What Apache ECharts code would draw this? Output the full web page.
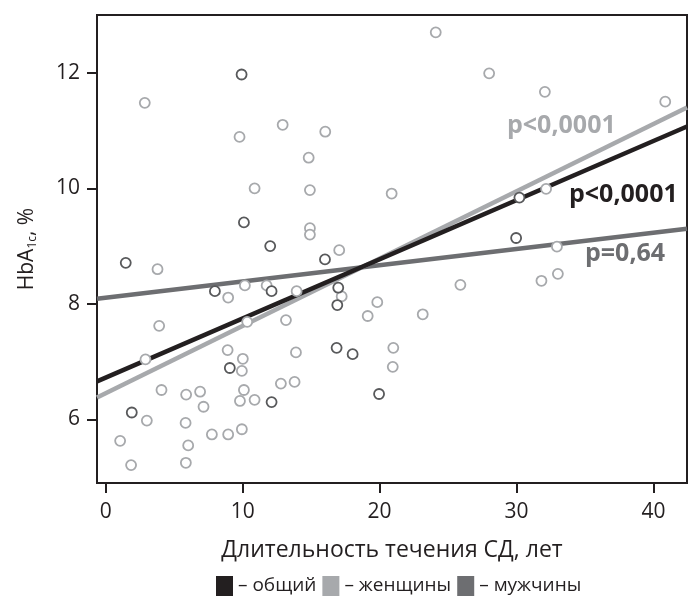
<!DOCTYPE html>
<html>
<head>
<meta charset="utf-8">
<script src="https://cdn.jsdelivr.net/npm/echarts@6/dist/echarts.min.js"></script>
<style>
  html, body { margin: 0; padding: 0; background: #fff; }
  #main { width: 688px; height: 599px; }
</style>
</head>
<body>
<div id="main"></div>
<script>
// точки: [длительность СД, HbA1c]
var menPoints = [
  [9.92, 11.97], [10.09, 9.41], [12.01, 9.0], [1.46, 8.71], [7.97, 8.22],
  [12.11, 8.22], [9.06, 6.89], [12.11, 6.30], [1.90, 6.12], [16.01, 8.77],
  [16.98, 8.28], [16.91, 7.98], [16.86, 7.24], [18.03, 7.13], [19.96, 6.44],
  [29.97, 9.14], [30.21, 9.84]
];
var womenPoints = [
  [2.85, 11.48], [9.77, 10.89], [12.92, 11.10], [10.87, 10.0], [24.1, 12.70],
  [16.03, 10.98], [14.82, 10.53], [14.91, 9.97], [20.88, 9.91], [14.91, 9.31],
  [14.91, 9.20], [17.05, 8.93], [28.0, 11.99], [32.07, 11.67], [40.86, 11.50],
  [32.16, 9.99], [32.95, 8.99], [3.78, 8.60], [10.16, 8.32], [11.75, 8.32],
  [8.94, 8.11], [13.16, 7.72], [3.90, 7.62], [10.33, 7.69], [2.90, 7.04],
  [8.90, 7.20], [10.01, 7.05], [9.94, 6.84], [12.79, 6.62], [4.07, 6.51],
  [5.87, 6.43], [6.89, 6.48], [10.09, 6.51], [9.80, 6.32], [10.87, 6.34],
  [7.14, 6.22], [3.00, 5.98], [5.83, 5.94], [9.94, 5.83], [7.75, 5.74],
  [8.94, 5.74], [1.05, 5.63], [6.02, 5.55], [1.85, 5.21], [5.85, 5.25],
  [13.94, 8.22], [17.23, 8.13], [19.83, 8.03], [19.13, 7.79], [23.15, 7.82],
  [25.9, 8.33], [13.89, 7.16], [21.0, 7.24], [20.96, 6.91], [13.79, 6.65],
  [31.82, 8.40], [33.02, 8.52]
];

// линии регрессии (концы на краях области)
var trendAll = [[-0.64, 6.66], [42.45, 11.07]];
var trendWomen = [[-0.64, 6.38], [42.45, 11.40]];
var trendMen = [[-0.64, 8.09], [42.45, 9.30]];

var xTicks = [0, 10, 20, 30, 40];
var yTicks = [6, 8, 10, 12];
var legendNames = ['общий', 'женщины', 'мужчины'];
var pLabels = ['p<0,0001', 'p<0,0001', 'p=0,64'];

var cBlack = '#231f20';
var cLight = '#a7a9ac';
var cDark = '#6d6e71';
var cMenPt = '#58595b';
var font = 'Open Sans';

var myChart = echarts.init(document.getElementById('main'));

var option = {
  animation: false,
  backgroundColor: '#fff',
  textStyle: { fontFamily: font },
  grid: {
    left: 97, right: 1, top: 15, bottom: 116,
    show: true, borderColor: cBlack, borderWidth: 2
  },
  legend: {
    left: 211, top: 571,
    icon: 'rect', itemWidth: 17, itemHeight: 20, itemGap: 6,
    textStyle: { fontSize: 19, color: cBlack, fontFamily: font },
    formatter: function (name) { return '– ' + name; },
    data: [
      { name: legendNames[0], itemStyle: { color: cBlack } },
      { name: legendNames[1], itemStyle: { color: cLight } },
      { name: legendNames[2], itemStyle: { color: cDark } }
    ]
  },
  xAxis: {
    type: 'value', min: -0.64, max: 42.45,
    name: 'Длительность течения СД, лет',
    nameLocation: 'middle', nameGap: 56,
    nameTextStyle: { fontSize: 23, color: cBlack, fontFamily: font },
    axisLine: { onZero: false, lineStyle: { color: cBlack, width: 2 } },
    axisTick: { customValues: xTicks, length: 10, lineStyle: { color: cBlack, width: 2 } },
    axisLabel: { customValues: xTicks, margin: 19, fontSize: 21, color: cBlack, fontFamily: font },
    splitLine: { show: false }
  },
  yAxis: {
    type: 'value', min: 4.9, max: 13.0,
    name: 'HbA{sub|1c}, %',
    nameLocation: 'middle', nameGap: 58,
    nameTextStyle: {
      fontSize: 21, color: cBlack, fontFamily: font,
      rich: { sub: { fontSize: 12, color: cBlack, fontFamily: font, verticalAlign: 'bottom', lineHeight: 24 } }
    },
    axisLine: { onZero: false, lineStyle: { color: cBlack, width: 2 } },
    axisTick: { customValues: yTicks, length: 10, lineStyle: { color: cBlack, width: 2 } },
    axisLabel: { customValues: yTicks, margin: 17, fontSize: 21, color: cBlack, fontFamily: font },
    splitLine: { show: false }
  },
  graphic: [
    { type: 'text', left: 507, top: 113, z: 100,
      style: { text: pLabels[1], fill: cLight, font: 'bold 25px "Open Sans"' } },
    { type: 'text', left: 569, top: 182, z: 100,
      style: { text: pLabels[0], fill: cBlack, font: 'bold 25px "Open Sans"' } },
    { type: 'text', left: 585, top: 241, z: 100,
      style: { text: pLabels[2], fill: cDark, font: 'bold 25px "Open Sans"' } }
  ],
  series: [
    {
      name: legendNames[2], type: 'line', data: trendMen, symbol: 'none', z: 2,
      itemStyle: { color: cDark }, lineStyle: { color: cDark, width: 4.5 }
    },
    {
      name: legendNames[1], type: 'line', data: trendWomen, symbol: 'none', z: 3,
      itemStyle: { color: cLight }, lineStyle: { color: cLight, width: 4.5 }
    },
    {
      name: legendNames[0], type: 'line', data: trendAll, symbol: 'none', z: 4,
      itemStyle: { color: cBlack }, lineStyle: { color: cBlack, width: 4.5 }
    },
    {
      name: 'женщины, точки', type: 'scatter', data: womenPoints, z: 5,
      symbol: 'circle', symbolSize: 10,
      itemStyle: { color: '#fff', borderColor: cLight, borderWidth: 1.8, opacity: 1 }
    },
    {
      name: 'мужчины, точки', type: 'scatter', data: menPoints, z: 6,
      symbol: 'circle', symbolSize: 10,
      itemStyle: { color: '#fff', borderColor: cMenPt, borderWidth: 1.8, opacity: 1 }
    }
  ]
};

if (option && typeof option === 'object') {
  myChart.setOption(option);
}
</script>
</body>
</html>
